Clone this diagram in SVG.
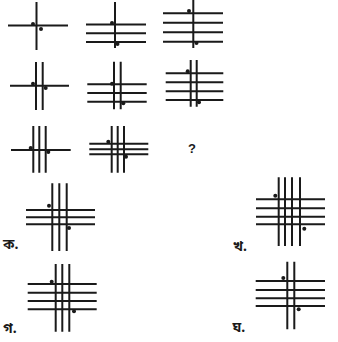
<svg xmlns="http://www.w3.org/2000/svg" width="338" height="342" viewBox="0 0 338 342">
<style>
.bg{fill:#ffffff}
.ln{stroke:#1a1a1a;stroke-width:2;fill:none;stroke-linecap:butt}
.dt{fill:#1a1a1a}
.lb{font-family:"Noto Sans","Noto Sans Bengali","Liberation Sans",sans-serif;font-size:14px;font-weight:bold;fill:#1a1a1a}
.q{font-family:"Liberation Sans",sans-serif;font-size:13px;font-weight:bold;fill:#1a1a1a}
</style>
<rect class="bg" x="0" y="0" width="338" height="342"/>

<g id="fig1">
<path class="ln" d="M36.5 2V50M8 25.5H68"/>
<circle class="dt" cx="33" cy="24" r="2"/><circle class="dt" cx="41" cy="29" r="2"/>
</g>
<g id="fig2">
<path class="ln" d="M115 2V48M86 24.5H146M86 33.3H146M86 42H146"/>
<circle class="dt" cx="112" cy="23" r="2"/><circle class="dt" cx="117.5" cy="44" r="2"/>
</g>
<g id="fig3">
<path class="ln" d="M193.3 0V48M163 13.3H223M163 22.7H223M163 32.3H223M163 41.7H223"/>
<circle class="dt" cx="189" cy="11" r="2"/><circle class="dt" cx="196.5" cy="43" r="2"/>
</g>

<g id="fig4">
<path class="ln" d="M36 62V110M42.7 62V110M10 85.7H69"/>
<circle class="dt" cx="33" cy="83.7" r="2"/><circle class="dt" cx="45.7" cy="88" r="2"/>
</g>
<g id="fig5">
<path class="ln" d="M114 61.7V109.3M120.7 61.7V109.3M87.3 84.3H146.7M87.3 93H146.7M87.3 101.7H146.7"/>
<circle class="dt" cx="112" cy="83.7" r="2"/><circle class="dt" cx="123.3" cy="103.3" r="2"/>
</g>
<g id="fig6">
<path class="ln" d="M190.7 60V106.7M196.7 60V106.7M165.7 73.3H223.3M165.7 82.3H223.3M165.7 91.3H223.3M165.7 100H223.3"/>
<circle class="dt" cx="187.7" cy="71.3" r="2"/><circle class="dt" cx="199" cy="102.3" r="2"/>
</g>

<g id="fig7">
<path class="ln" d="M33.3 126V172.7M39.3 126V172.7M45.7 126V172.7M11 150H70.7"/>
<circle class="dt" cx="30.7" cy="148" r="2"/><circle class="dt" cx="48.3" cy="152" r="2"/>
</g>
<g id="fig8">
<path class="ln" d="M111.7 126V172.7M117.7 126V172.7M124 126V172.7M89.3 143.7H148.3M89.3 149.3H148.3M89.3 154.3H148.3"/>
<circle class="dt" cx="108.3" cy="141.7" r="2"/><circle class="dt" cx="126" cy="156.7" r="2"/>
</g>
<g id="question">
<text class="q" x="192" y="153" text-anchor="middle">?</text>
</g>

<g id="optionKa">
<path class="ln" d="M52.3 183.3V251M59.3 183.3V251M66.7 183.3V251M26 210H95M26 217.3H95M26 224.3H95"/>
<circle class="dt" cx="49" cy="205.7" r="2"/><circle class="dt" cx="69" cy="228" r="2"/>
<text class="lb" x="3" y="249">ক.</text>
</g>
<g id="optionKha">
<path class="ln" d="M278.7 177.3V246M285 177.3V246M292 177.3V246M300 177.3V246M256 199.3H325M256 208.3H325M256 216.7H325M256 224.3H325"/>
<circle class="dt" cx="275.3" cy="195.7" r="2"/><circle class="dt" cx="304.3" cy="228.7" r="2"/>
<text class="lb" x="233" y="250.5">খ.</text>
</g>
<g id="optionGa">
<path class="ln" d="M55.7 264V331.7M62.3 264V331.7M69.3 264V331.7M27.7 284H96.7M27.7 292.7H96.7M27.7 301H96.7M27.7 309.3H96.7"/>
<circle class="dt" cx="51.7" cy="281.7" r="2"/><circle class="dt" cx="74" cy="311.3" r="2"/>
<text class="lb" x="3" y="333">গ.</text>
</g>
<g id="optionGha">
<path class="ln" d="M287.3 261.7V329.3M294.3 261.7V329.3M255.7 281H325M255.7 290H325M255.7 298.3H325M255.7 306H325"/>
<circle class="dt" cx="283.3" cy="278" r="2"/><circle class="dt" cx="298.7" cy="309.3" r="2"/>
<text class="lb" x="232.5" y="331.5">ঘ.</text>
</g>
</svg>
